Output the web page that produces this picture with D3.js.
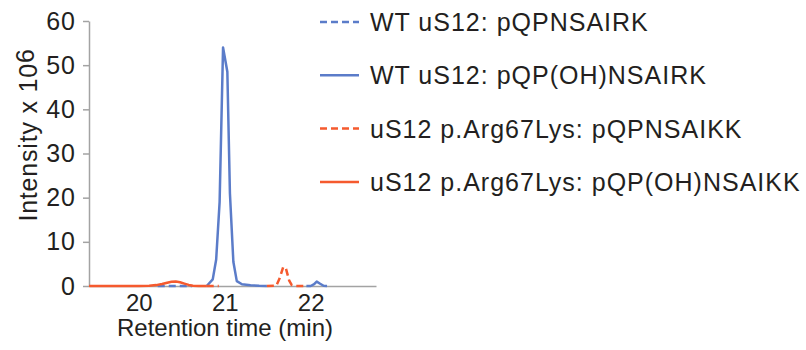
<!DOCTYPE html>
<meta charset="utf-8">
<style>
body { margin: 0; background: #fff; }
svg { font-family: "Liberation Sans", Arial, sans-serif; }
</style>
<svg id="chart" width="806" height="350"></svg>
<script src="https://cdn.jsdelivr.net/npm/d3@7"></script>
<script>
// retention time (min) and intensity (x10^6) for each trace, null = no data
var blueDashT = [20.22, 20.30, 20.38, 20.46, 20.54, 20.62];
var blueDashV = [0, 0, 0, 0, 0, 0];

var blueSolidT = [20.79, 20.86, 20.90, 20.94, 20.98, 21.03, 21.06, 21.10, 21.14, 21.20, 21.30, 21.40, 21.49,
                  21.50, 21.95, 22.00, 22.04, 22.07, 22.11, 22.15, 22.19];
var blueSolidV = [0, 1.5, 6, 19, 54, 48.5, 21, 5.5, 1.1, 0.4, 0.15, 0.05, 0,
                  null, 0, 0, 0.4, 1.0, 0.5, 0.05, 0];

var redDashT = [20.79, 20.93, 20.94, 21.49, 21.60, 21.64, 21.68, 21.71, 21.75, 21.78, 21.82, 21.95];
var redDashV = [0, 0, null, 0, 0.1, 1.8, 4.3, 4.1, 1.2, 0.2, 0, 0];

var redSolidT = [19.42, 19.80, 20.00, 20.12, 20.20, 20.27, 20.33, 20.38, 20.43, 20.48, 20.53, 20.58, 20.63, 20.70, 20.79];
var redSolidV = [0, 0, 0.02, 0.08, 0.2, 0.45, 0.75, 0.95, 1.0, 0.85, 0.55, 0.25, 0.08, 0.02, 0];

var legendLabels = ["WT uS12: pQPNSAIRK", "WT uS12: pQP(OH)NSAIRK",
                    "uS12 p.Arg67Lys: pQPNSAIKK", "uS12 p.Arg67Lys: pQP(OH)NSAIKK"];
var xTicks = [20, 21, 22];
var yTicks = [0, 10, 20, 30, 40, 50, 60];

var blue = "#5b7cc9", red = "#f55a2e", axisGrey = "#a3a3a3", ink = "#231f20";

var series = [
  {t: blueDashT, v: blueDashV, color: blue, dash: "7,4"},
  {t: blueSolidT, v: blueSolidV, color: blue, dash: null},
  {t: redDashT, v: redDashV, color: red, dash: "7,4"},
  {t: redSolidT, v: redSolidV, color: red, dash: null}
];

var svg = d3.select("#chart");
var margin = {top: 21, left: 89};
var width = 287, height = 265;
var g = svg.append("g").attr("transform", "translate(" + margin.left + "," + margin.top + ")");

var x = d3.scaleLinear().domain([19.42, 22.76]).range([0, width]);
var y = d3.scaleLinear().domain([0, 60]).range([height, 0]);

// y axis
var yAxis = g.append("g")
    .call(d3.axisLeft(y).tickValues(yTicks).tickSize(6).tickPadding(7).tickSizeOuter(0));
yAxis.select(".domain").attr("stroke", axisGrey).attr("stroke-width", 1.5);
yAxis.selectAll(".tick line").attr("stroke", axisGrey).attr("stroke-width", 1.5);
yAxis.selectAll("text").attr("font-size", 25).attr("letter-spacing", 1).attr("fill", ink).attr("font-family", null);

// x axis, no tick marks
var xAxis = g.append("g")
    .attr("transform", "translate(0," + height + ")")
    .call(d3.axisBottom(x).tickValues(xTicks).tickSize(0).tickPadding(8).tickFormat(d3.format("d")));
xAxis.select(".domain").attr("stroke", axisGrey).attr("stroke-width", 1.5);
xAxis.selectAll("text").attr("font-size", 24).attr("fill", ink).attr("font-family", null);

// traces
var line = d3.line()
    .defined(function(d) { return d[1] != null; })
    .x(function(d) { return x(d[0]); })
    .y(function(d) { return y(d[1]); });

g.selectAll(".trace")
  .data(series)
  .enter().append("path")
    .attr("class", "trace")
    .attr("fill", "none")
    .attr("stroke", function(d) { return d.color; })
    .attr("stroke-width", 2.5)
    .attr("stroke-linejoin", "round")
    .attr("stroke-dasharray", function(d) { return d.dash; })
    .attr("d", function(d) { return line(d.t.map(function(t, i) { return [t, d.v[i]]; })); });

// axis titles
svg.append("text")
    .attr("x", 225).attr("y", 336)
    .attr("text-anchor", "middle")
    .attr("font-size", 24).attr("fill", ink)
    .text("Retention time (min)");

var yTitle = svg.append("text")
    .attr("transform", "translate(37,135) rotate(-90)")
    .attr("text-anchor", "middle")
    .attr("font-size", 25).attr("letter-spacing", 0.8).attr("fill", ink);
yTitle.append("tspan").text("Intensity x 10");
yTitle.append("tspan").attr("dy", -3).text("6");   // exponent, slightly raised

// legend
var legend = svg.append("g")
  .selectAll("g")
  .data(series)
  .enter().append("g")
    .attr("transform", function(d, i) { return "translate(320," + (22 + i * 53.3) + ")"; });

legend.append("line")
    .attr("x1", 0).attr("x2", 39)
    .attr("stroke", function(d) { return d.color; })
    .attr("stroke-width", 2.5)
    .attr("stroke-dasharray", function(d) { return d.dash; });

legend.append("text")
    .attr("x", 50).attr("dy", "0.36em")
    .attr("font-size", 25).attr("letter-spacing", 1).attr("fill", ink)
    .text(function(d, i) { return legendLabels[i]; });
</script>
